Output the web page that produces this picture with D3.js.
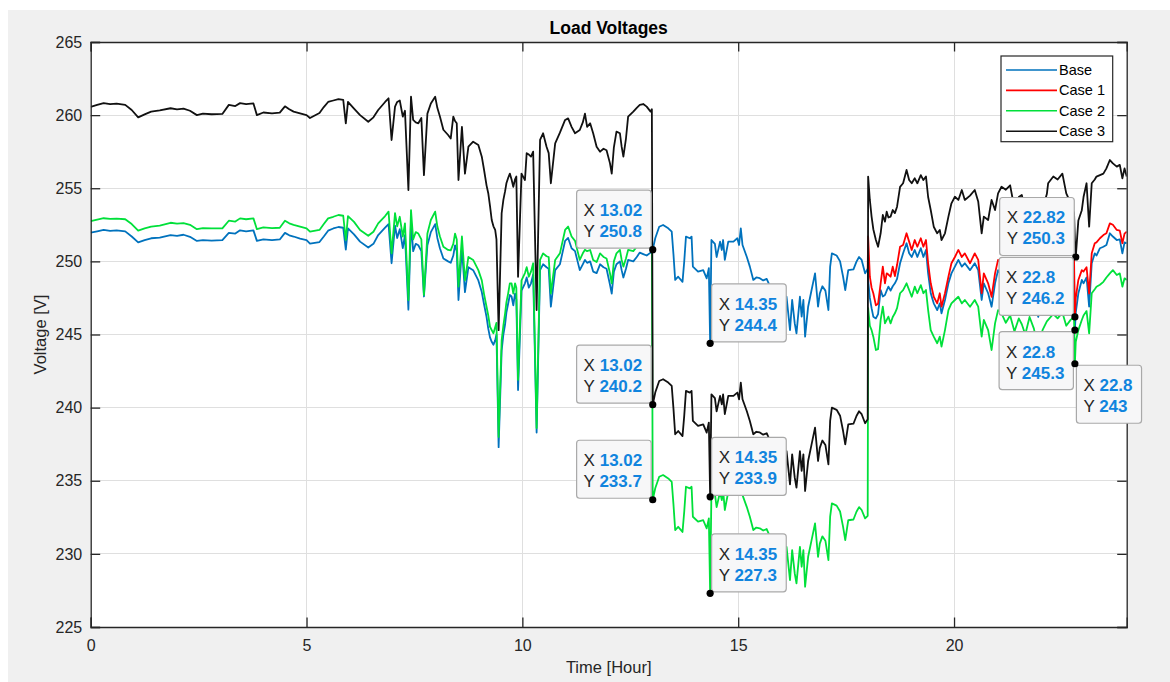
<!DOCTYPE html>
<html>
<head>
<meta charset="utf-8">
<script src="https://cdn.jsdelivr.net/npm/d3@7"></script>
<style>
  html, body { margin: 0; padding: 0; background: #ffffff; }
  svg { display: block; font-family: "Liberation Sans", Arial, Helvetica, sans-serif; }
</style>
</head>
<body>
<svg id="chart" width="1170" height="682"></svg>
<script>
// ---- data: load voltage over one day (hours), shared time base ----
const hours = [
  0.00,0.15,0.30,0.45,0.60,0.80,0.95,1.10,1.25,1.40,1.60,1.85,2.00,2.15,2.30,2.46,2.60,2.80,3.05,3.20,
  3.35,3.46,3.60,3.77,3.85,4.00,4.20,4.38,4.50,4.60,4.70,4.85,5.00,5.08,5.30,5.40,5.50,5.62,5.74,5.85,
  5.91,5.96,6.10,6.24,6.43,6.55,6.66,6.82,6.90,6.97,7.05,7.10,7.16,7.23,7.28,7.36,7.42,7.47,7.53,7.59,
  7.66,7.72,7.80,7.88,7.98,8.03,8.09,8.17,8.28,8.34,8.40,8.44,8.48,8.52,8.60,8.67,8.75,8.86,8.98,9.06,
  9.11,9.17,9.21,9.25,9.29,9.33,9.37,9.40,9.45,9.52,9.56,9.60,9.63,9.67,9.71,9.75,9.79,9.83,9.86,9.90,
  9.98,10.06,10.10,10.15,10.20,10.25,10.33,10.41,10.48,10.56,10.61,10.66,10.76,10.87,10.99,11.06,11.14,11.22,11.33,11.40,
  11.45,11.50,11.57,11.64,11.72,11.80,11.88,11.95,12.03,12.07,12.12,12.18,12.26,12.30,12.34,12.40,12.45,12.57,12.65,12.72,
  12.80,12.88,12.97,13.00,13.02,13.08,13.17,13.26,13.38,13.46,13.50,13.54,13.61,13.71,13.75,13.79,13.88,13.92,13.95,14.07,
  14.19,14.27,14.32,14.35,14.38,14.46,14.50,14.58,14.62,14.65,14.69,14.77,14.89,14.98,15.02,15.06,15.10,15.20,15.27,15.35,
  15.42,15.50,15.58,15.66,15.75,15.82,15.88,15.95,16.02,16.08,16.12,16.20,16.25,16.31,16.35,16.43,16.47,16.51,16.55,16.62,
  16.70,16.78,16.85,16.89,16.95,17.02,17.09,17.13,17.17,17.28,17.36,17.43,17.48,17.55,17.67,17.74,17.80,17.86,17.94,18.00,
  18.01,18.05,18.09,18.13,18.19,18.24,18.30,18.35,18.40,18.44,18.48,18.53,18.58,18.63,18.68,18.75,18.82,18.90,18.96,19.02,
  19.09,19.15,19.23,19.29,19.35,19.40,19.46,19.53,19.61,19.67,19.71,19.79,19.87,19.94,20.02,20.10,20.18,20.25,20.37,20.48,
  20.56,20.64,20.69,20.79,20.87,20.95,21.02,21.10,21.20,21.30,21.40,21.50,21.57,21.65,21.75,21.85,21.95,22.05,22.15,22.18,
  22.30,22.40,22.51,22.60,22.70,22.78,22.80,22.82,22.88,22.96,23.00,23.07,23.13,23.19,23.26,23.30,23.38,23.46,23.53,23.61,
  23.68,23.77,23.84,23.90,23.95,24.00
];

const baseVolts = [
  251.96,252.05,252.15,252.08,252.12,252.05,251.70,251.30,251.45,251.58,251.62,251.80,251.75,251.82,251.68,251.40,251.45,251.42,251.45,251.95,
  251.90,252.12,252.05,252.12,251.40,251.50,251.45,251.50,251.95,251.78,251.70,251.55,251.45,251.22,251.32,251.70,252.10,252.25,252.35,252.30,
  250.80,252.25,251.85,251.35,250.95,251.20,251.80,252.30,252.55,249.87,252.45,251.60,252.20,250.90,251.80,246.70,252.70,250.70,251.20,251.10,
  250.70,247.60,251.10,252.00,252.55,251.60,250.90,250.20,250.00,249.90,250.40,251.10,250.70,247.36,250.90,247.90,249.60,249.40,248.70,247.90,
  247.10,246.20,245.40,244.80,244.50,244.30,244.60,245.00,237.30,243.90,245.00,245.70,246.50,247.10,247.70,247.60,247.00,247.80,247.40,241.20,
  248.00,248.50,248.90,248.20,248.50,249.10,238.30,249.40,249.80,249.60,249.50,246.90,249.40,249.80,251.40,251.60,250.90,250.70,249.40,249.80,
  250.10,249.90,250.00,249.30,249.20,249.80,249.60,249.50,248.40,247.80,249.30,249.80,250.00,249.40,248.90,249.50,250.10,250.00,250.30,250.60,
  250.50,250.40,250.60,250.70,250.80,251.60,252.37,252.49,252.26,252.03,250.50,248.73,248.95,248.60,250.00,251.69,251.58,251.69,249.64,249.30,
  249.40,248.84,249.53,244.40,251.46,251.20,250.30,251.35,250.78,251.46,250.10,251.35,251.35,251.58,251.12,252.26,251.12,250.30,249.64,248.73,
  248.90,248.85,248.70,248.80,248.20,246.80,247.90,246.30,247.50,245.80,247.58,245.30,247.36,245.76,245.08,247.58,246.22,247.36,244.85,246.90,
  248.04,249.18,246.90,247.80,248.30,248.00,246.67,249.64,250.55,250.40,250.00,248.95,248.04,249.40,249.45,249.98,250.30,250.10,249.18,249.50,
  248.70,247.50,246.80,246.22,246.10,246.40,248.04,247.60,247.70,248.00,248.27,248.00,248.30,248.50,248.80,249.87,250.55,251.24,250.55,250.30,
  250.78,250.30,250.90,250.30,250.78,249.18,247.82,247.13,246.67,247.13,246.45,247.36,248.50,249.18,249.64,250.10,249.64,249.87,249.40,249.87,
  249.40,247.36,248.50,247.82,246.90,248.50,249.40,249.00,248.30,248.80,247.60,248.60,248.20,247.40,248.50,247.80,246.20,247.60,248.20,248.40,
  248.90,248.50,249.00,248.00,248.60,249.10,245.30,246.50,247.82,248.73,248.50,248.90,246.90,249.87,250.55,250.40,250.90,251.00,251.12,251.92,
  251.70,251.46,251.50,250.55,251.30,251.24
];

const case2Volts = [
  252.76,252.85,252.95,252.90,252.92,252.88,252.55,252.10,252.25,252.37,252.45,252.64,252.58,252.62,252.50,252.20,252.28,252.25,252.26,252.78,
  252.72,252.94,252.88,252.94,252.20,252.32,252.28,252.30,252.78,252.60,252.50,252.38,252.26,252.03,252.15,252.55,252.94,253.05,253.17,253.12,
  251.46,253.10,252.70,252.15,251.75,252.03,252.60,253.10,253.40,250.55,253.30,252.40,253.05,251.70,252.60,247.36,253.50,251.50,252.00,251.90,
  251.50,247.70,251.90,252.83,253.40,252.40,251.70,251.00,250.78,250.75,251.20,251.90,251.50,248.27,251.70,248.70,250.30,250.10,249.40,248.70,
  247.80,246.90,246.30,245.53,245.30,245.08,245.50,245.80,238.00,244.60,245.60,246.45,247.20,247.80,248.50,248.50,247.80,248.50,248.20,241.90,
  248.70,249.20,249.60,248.95,249.30,249.87,238.60,250.10,250.55,250.35,250.30,247.80,250.10,250.55,252.15,252.38,251.70,251.40,250.10,250.55,
  250.80,250.70,250.78,250.10,249.95,250.55,250.30,250.20,249.18,248.50,250.00,250.55,250.78,250.10,249.64,250.20,250.78,250.70,251.00,251.20,
  251.10,251.00,251.30,251.30,233.70,234.50,235.27,235.39,235.16,234.93,233.40,231.63,231.85,231.50,232.90,234.59,234.48,234.59,232.54,232.20,
  232.30,231.74,232.43,227.30,234.36,234.10,233.20,234.25,233.68,234.36,233.00,234.25,234.25,234.48,234.02,235.16,234.02,233.20,232.54,231.63,
  231.80,231.75,231.60,231.70,231.10,229.70,230.80,229.20,230.40,228.70,230.48,228.20,230.26,228.66,227.98,230.48,229.12,230.26,227.75,229.80,
  230.94,232.08,229.80,230.70,231.20,230.90,229.57,232.54,233.45,233.30,232.90,231.85,230.94,232.30,232.35,232.88,233.20,233.00,232.43,232.60,
  246.80,245.60,245.30,244.85,243.94,244.00,246.00,246.90,245.76,246.00,246.22,245.76,246.20,246.45,246.80,247.82,248.04,248.50,248.04,247.58,
  248.27,247.82,248.38,247.82,248.04,246.67,245.30,244.85,244.40,244.85,244.17,245.30,246.67,247.13,247.36,247.58,247.13,247.36,246.90,247.36,
  246.90,244.85,246.00,245.30,243.94,245.76,246.67,246.45,245.80,246.30,245.20,246.10,245.70,245.00,246.20,245.40,244.00,245.30,245.90,246.00,
  246.40,246.10,246.50,245.60,246.00,246.20,243.00,244.50,245.30,245.99,246.30,246.60,245.08,247.82,248.10,248.27,248.40,248.60,248.90,249.18,
  249.40,249.07,249.18,248.27,248.84,248.73
];

const case3Volts = [
  260.57,260.70,260.82,260.75,260.78,260.70,260.35,259.85,260.05,260.24,260.32,260.47,260.40,260.45,260.30,260.00,260.10,260.06,260.08,260.70,
  260.62,260.82,260.75,260.80,260.00,260.18,260.12,260.17,260.60,260.40,260.24,260.12,260.00,259.80,260.15,260.55,260.90,261.00,261.10,261.05,
  259.44,260.90,260.45,260.00,259.55,259.85,260.35,260.90,261.15,258.30,260.58,260.90,261.00,259.90,260.30,254.88,261.26,259.67,259.50,259.44,
  259.80,255.90,260.10,260.80,261.26,260.50,259.90,259.00,258.64,258.40,259.90,259.60,259.44,255.56,259.20,256.00,257.84,258.18,257.96,257.16,
  256.30,255.20,254.66,253.80,252.83,252.40,252.15,251.50,245.30,253.29,254.20,254.80,255.34,255.70,256.00,255.60,255.10,255.60,255.80,248.95,
  256.00,255.56,257.40,257.30,257.16,257.50,246.67,258.30,258.76,257.84,257.40,255.34,258.07,258.80,259.67,259.78,259.20,258.76,258.98,259.50,
  260.10,259.20,259.44,258.76,257.84,257.50,257.70,257.60,256.70,256.00,257.80,258.87,258.76,257.84,257.16,258.40,259.90,260.24,260.50,260.70,
  260.76,260.58,260.24,260.40,240.20,241.05,241.82,241.94,241.71,241.48,239.95,238.18,238.40,238.05,239.45,241.14,241.03,241.14,239.09,238.75,
  238.85,238.29,238.98,233.90,240.91,240.65,239.75,240.80,240.23,240.91,239.55,240.80,240.80,241.03,240.57,241.71,240.57,239.75,239.09,238.18,
  238.35,238.30,238.15,238.25,237.65,236.25,237.35,235.75,236.95,235.25,237.03,234.75,236.81,235.21,234.53,237.03,235.67,236.81,234.30,236.35,
  237.49,238.63,236.35,237.25,237.75,237.45,236.12,239.09,240.00,239.85,239.45,238.40,237.49,238.85,238.90,239.43,239.75,239.55,238.93,239.20,
  255.80,254.20,253.06,252.20,251.46,251.00,251.92,253.17,252.72,253.40,253.00,253.06,253.51,253.30,253.74,255.10,255.34,256.25,255.56,255.34,
  255.68,255.34,255.90,255.56,255.80,254.40,253.51,252.37,251.92,252.15,251.46,251.92,253.06,253.97,254.42,254.20,254.88,254.20,254.50,254.88,
  254.10,251.92,253.06,252.83,254.20,253.51,254.65,255.10,254.90,255.20,253.60,254.40,254.54,253.40,254.30,253.80,252.80,253.60,254.60,255.34,
  255.80,255.60,256.00,254.65,254.00,253.30,251.50,250.30,252.80,253.50,254.40,255.34,252.37,255.34,255.60,255.80,255.90,256.00,256.36,256.93,
  256.70,256.48,256.60,255.68,256.36,255.80
];

// Case 1 only departs from the base profile after 18 h
const case1Hours = [
  18.00,18.01,18.05,18.09,18.13,18.19,18.24,18.30,18.35,18.40,18.44,18.48,18.53,18.58,18.63,18.68,18.75,18.82,18.90,18.96,
  19.02,19.09,19.15,19.23,19.29,19.35,19.40,19.46,19.53,19.61,19.67,19.71,19.79,19.87,19.94,20.02,20.10,20.18,20.25,20.37,
  20.48,20.56,20.64,20.69,20.79,20.87,20.95,21.02,21.10,21.20,21.30,21.40,21.50,21.57,21.65,21.75,21.85,21.95,22.05,22.15,
  22.18,22.30,22.40,22.51,22.60,22.70,22.78,22.80,22.82,22.88,22.96,23.00,23.07,23.13,23.19,23.26,23.30,23.38,23.46,23.53,
  23.61,23.68,23.77,23.84,23.90,23.95,24.00
];
const case1Volts = [
  249.50,251.70,248.95,248.20,247.82,247.00,247.10,248.50,249.64,248.50,249.18,249.10,248.95,249.64,249.00,249.75,251.00,251.12,251.92,251.35,
  250.78,251.46,251.00,251.58,251.00,251.46,249.87,248.50,247.58,247.13,247.82,246.90,247.82,248.95,249.87,250.30,250.78,250.30,250.55,249.87,
  250.55,250.10,247.82,249.18,248.50,247.58,249.18,250.10,249.87,249.20,249.60,248.60,249.50,249.20,248.40,249.40,248.80,247.40,248.70,249.30,
  249.60,250.00,249.60,250.10,249.00,249.60,250.20,246.20,247.50,248.73,249.40,249.30,249.60,247.80,250.55,251.24,251.30,251.58,251.80,251.92,
  252.60,252.50,252.15,252.10,251.24,251.90,252.03
];

const seriesNames = ["Base", "Case 1", "Case 2", "Case 3"];

// data tips: hour, voltage
const tipHours = [13.02, 14.35, 13.02, 14.35, 13.02, 14.35, 22.82, 22.8, 22.8, 22.8];
const tipVolts = [250.8, 244.4, 240.2, 233.9, 233.7, 227.3, 250.3, 246.2, 245.3, 243];

const xTicks = [0, 5, 10, 15, 20];
const yTicks = [225, 230, 235, 240, 245, 250, 255, 260, 265];

// ---- layout & styling ----
const W = 1170, H = 682;
const plot = { left: 90.7, top: 42, right: 1126.7, bottom: 627 };
const colors = { "Base": "#0072BD", "Case 1": "#ff0000", "Case 2": "#00e03a", "Case 3": "#111111" };
const axisInk = "#262626";
const gridInk = "#dfdfdf";
const tipValueInk = "#1084de";
// where each data tip box sits relative to its point (u/d, l/r)
const tipPlacement = ["ul", "ur", "ul", "ur", "ul", "ur", "ul", "ul", "dl", "dr"];

const svg = d3.select("#chart");

// figure background
svg.append("rect").attr("x", 8).attr("y", 10).attr("width", W - 8).attr("height", H - 10)
  .attr("fill", "#f0f0f0");

const x = d3.scaleLinear().domain([0, 24]).range([plot.left, plot.right]);
const y = d3.scaleLinear().domain([225, 265]).range([plot.bottom, plot.top]);

// axes background
svg.append("rect").attr("x", plot.left).attr("y", plot.top)
  .attr("width", plot.right - plot.left).attr("height", plot.bottom - plot.top)
  .attr("fill", "#ffffff");

// grid
const grid = svg.append("g").attr("stroke", gridInk).attr("stroke-width", 1).attr("shape-rendering", "crispEdges");
grid.selectAll("line.gx").data(xTicks.filter(d => d > 0)).join("line")
  .attr("x1", d => x(d)).attr("x2", d => x(d)).attr("y1", plot.top).attr("y2", plot.bottom);
grid.selectAll("line.gy").data(yTicks.filter(d => d > 225 && d < 265)).join("line")
  .attr("y1", d => y(d)).attr("y2", d => y(d)).attr("x1", plot.left).attr("x2", plot.right);

// series lines
svg.append("clipPath").attr("id", "plotClip").append("rect")
  .attr("x", plot.left).attr("y", plot.top)
  .attr("width", plot.right - plot.left).attr("height", plot.bottom - plot.top);

const line = d3.line().x(d => x(d[0])).y(d => y(d[1]));
const seriesData = {
  "Base": d3.zip(hours, baseVolts),
  "Case 1": d3.zip(case1Hours, case1Volts),
  "Case 2": d3.zip(hours, case2Volts),
  "Case 3": d3.zip(hours, case3Volts)
};
const lines = svg.append("g").attr("clip-path", "url(#plotClip)");
seriesNames.forEach(name => {
  lines.append("path").datum(seriesData[name])
    .attr("d", line).attr("fill", "none")
    .attr("stroke", colors[name]).attr("stroke-width", 1.8)
    .attr("stroke-linejoin", "round");
});

// axes (ticks point inward, box on all four sides)
const fontSize = 16;
const yAxis = svg.append("g").attr("transform", `translate(${plot.left},0)`)
  .call(d3.axisLeft(y).tickValues(yTicks).tickSize(-9.5).tickPadding(8.5).tickFormat(d3.format("d")));
const xAxis = svg.append("g").attr("transform", `translate(0,${plot.bottom})`)
  .call(d3.axisBottom(x).tickValues(xTicks).tickSize(-9.5).tickPadding(13).tickFormat(d3.format("d")));
const yAxisR = svg.append("g").attr("transform", `translate(${plot.right},0)`)
  .call(d3.axisRight(y).tickValues(yTicks).tickSize(-9.5).tickFormat(""));
const xAxisT = svg.append("g").attr("transform", `translate(0,${plot.top})`)
  .call(d3.axisTop(x).tickValues(xTicks).tickSize(-9.5).tickFormat(""));
[yAxis, xAxis, yAxisR, xAxisT].forEach(g => {
  g.select(".domain").attr("stroke", axisInk).attr("stroke-width", 1.3);
  g.selectAll(".tick line").attr("stroke", axisInk).attr("stroke-width", 1.3);
  g.selectAll(".tick text").attr("fill", axisInk).attr("font-size", fontSize)
    .attr("font-family", "Liberation Sans, Arial, sans-serif");
});

// titles
svg.append("text").attr("x", (plot.left + plot.right) / 2).attr("y", 34)
  .attr("text-anchor", "middle").attr("font-weight", "bold").attr("font-size", 17.5)
  .attr("fill", "#000").text("Load Voltages");
svg.append("text").attr("x", (plot.left + plot.right) / 2).attr("y", 673)
  .attr("text-anchor", "middle").attr("font-size", 16.5).attr("fill", axisInk).text("Time [Hour]");
svg.append("text").attr("transform", `translate(46,${(plot.top + plot.bottom) / 2}) rotate(-90)`)
  .attr("text-anchor", "middle").attr("font-size", 16.5).attr("fill", axisInk).text("Voltage [V]");

// legend
const legend = svg.append("g");
legend.append("rect").attr("x", 1001).attr("y", 56).attr("width", 111.7).attr("height", 85.7)
  .attr("fill", "#ffffff").attr("stroke", axisInk).attr("stroke-width", 1.2);
seriesNames.forEach((name, i) => {
  const ly = 70 + i * 20.4;
  legend.append("line").attr("x1", 1006).attr("x2", 1057).attr("y1", ly).attr("y2", ly)
    .attr("stroke", colors[name]).attr("stroke-width", 1.6);
  legend.append("text").attr("x", 1059).attr("y", ly + 5).attr("font-size", 14.5)
    .attr("fill", "#000").text(name);
});

// data tips
const tips = svg.append("g");
tipHours.forEach((h, i) => {
  const px = x(h), py = y(tipVolts[i]);
  const g = tips.append("g");
  const box = g.append("rect");
  const t1 = g.append("text").attr("font-size", 17);
  t1.append("tspan").attr("fill", axisInk).text("X ");
  t1.append("tspan").attr("fill", tipValueInk).attr("font-weight", "bold").text(String(h));
  const t2 = g.append("text").attr("font-size", 17);
  t2.append("tspan").attr("fill", axisInk).text("Y ");
  t2.append("tspan").attr("fill", tipValueInk).attr("font-weight", "bold").text(String(tipVolts[i]));
  const tw = Math.max(t1.node().getComputedTextLength(), t2.node().getComputedTextLength());
  const bw = tw + 16, bh = 58, gap = 1.5;
  const place = tipPlacement[i];
  const bx = place[1] === "l" ? px - gap - bw : px + gap;
  const by = place[0] === "u" ? py - gap - bh : py + gap;
  box.attr("x", bx).attr("y", by).attr("width", bw).attr("height", bh).attr("rx", 3)
    .attr("fill", "#f7f7f8").attr("stroke", "#a9a9a9").attr("stroke-width", 1.2);
  t1.attr("x", bx + 7).attr("y", by + 26);
  t2.attr("x", bx + 7).attr("y", by + 47);
  tips.append("circle").attr("cx", px).attr("cy", py).attr("r", 3.6).attr("fill", "#000");
});
</script>
</body>
</html>
